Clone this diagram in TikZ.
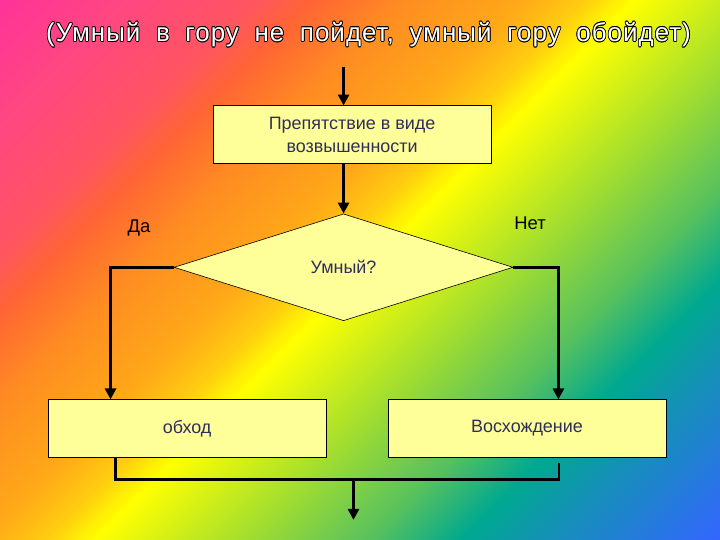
\documentclass[tikz,border=0pt]{standalone}
\usepackage{fontspec}
\setmainfont{Liberation Sans}
\newfontfamily\mottofont[LetterSpace=4, WordSpace=1.9]{Liberation Sans}
\usetikzlibrary{shapes.geometric,arrows.meta}

\definecolor{boxyellow}{HTML}{FFFF99}
\definecolor{boxtext}{HTML}{2E2E5C}
\definecolor{rbpink}{HTML}{FF3399}
\definecolor{rbmauve}{HTML}{FF4780}
\definecolor{rbrose}{HTML}{FF5560}
\definecolor{rbred}{HTML}{FF6633}
\definecolor{rborange}{HTML}{FF8C22}
\definecolor{rbamber}{HTML}{FFA818}
\definecolor{rbgold}{HTML}{FFCC10}
\definecolor{rbyellow}{HTML}{FFFF00}
\definecolor{rblime}{HTML}{A0DD30}
\definecolor{rbgreen}{HTML}{55C060}
\definecolor{rbteal}{HTML}{00A890}
\definecolor{rbsea}{HTML}{1590B8}
\definecolor{rbblue}{HTML}{3366FF}

\pgfdeclarehorizontalshading{rainbow}{100bp}{
    color(0bp)=(rbpink); color(14.6bp)=(rbpink); color(21.7bp)=(rbmauve);
    color(28.8bp)=(rbrose); color(32.3bp)=(rbred); color(37.2bp)=(rborange);
    color(43.8bp)=(rbamber); color(47.4bp)=(rbgold); color(50.2bp)=(rbyellow);
    color(58.85bp)=(rblime); color(65.9bp)=(rbgreen); color(70.9bp)=(rbteal);
    color(75.8bp)=(rbsea); color(85.4bp)=(rbblue); color(100bp)=(rbblue)}

\newcommand{\saying}{(Умный в гору не пойдет, умный гору обойдет)}

\tikzset{
    block/.style = {
        draw,
        line width=0.8pt,
        fill=boxyellow,
        minimum width=9.81cm,
        minimum height=2.03cm,
        text=boxtext,
        align=center,
        font=\fontsize{18}{23}\selectfont
    },
    decision/.style = {
        diamond,
        draw,
        line width=0.6pt,
        fill=boxyellow,
        inner sep=0pt,
        minimum width=11.96cm,
        minimum height=3.77cm,
        text=boxtext,
        font=\fontsize{18}{22}\selectfont
    },
    link/.style = {
        line width=3pt,
        black
    },
    flow/.style = {
        link,
        -{Triangle[length=11pt,width=11pt]}
    },
    answer/.style = {
        font=\fontsize{18.5}{22}\selectfont
    },
    motto/.style = {
        font=\mottofont\fontsize{26}{30}\selectfont
    }
}

\begin{document}
\begin{tikzpicture}
    % Background
    \shade[shading=rainbow, shading angle=-45] (0,0) rectangle (25.4,19.05);
    \useasboundingbox (0,0) rectangle (25.4,19.05);

    % Title, white letters with a black rim
    \coordinate (titlepos) at (13.0,17.83);
    \foreach \ang in {0,30,...,330}
        \node[motto, text=black] at ([shift={(\ang:0.75pt)}]titlepos) {\saying};
    \node[motto, text=white] (title) at (titlepos) {\saying};

    % Draw all blocks
    \node[block]    (obstacle) at (12.42,14.30) {Препятствие в виде\\возвышенности};
    \node[decision] (smart)    at (12.12,9.62)  {Умный?};
    \node[block]    (detour)   at (6.60,3.93)   {обход};
    \node[block]    (climb)    at (18.59,3.93)  {Восхождение};

    \node[answer] (yes) at (4.90,11.01) {Да};
    \node[answer] (no)  at (18.70,11.18) {Нет};

    % Draw connectors
    \coordinate (start)  at (12.12,16.69);
    \coordinate (merge)  at (12.47,2.12);
    \coordinate (finish) at (12.47,0.71);

    \draw[flow] (start) -- (start |- obstacle.north);
    \draw[flow] (smart.north |- obstacle.south) -- (smart.north);
    \draw[flow] (smart.west) -| ([xshift=-2.70cm]detour.north);
    \draw[flow] (smart.east) -| ([xshift=1.11cm]climb.north);
    \draw[link] ([xshift=-2.51cm]detour.south) |- (merge)
        -| ([xshift=1.13cm, yshift=-0.2cm]climb.south);
    \draw[flow] (merge) -- (finish);
\end{tikzpicture}
\end{document}
